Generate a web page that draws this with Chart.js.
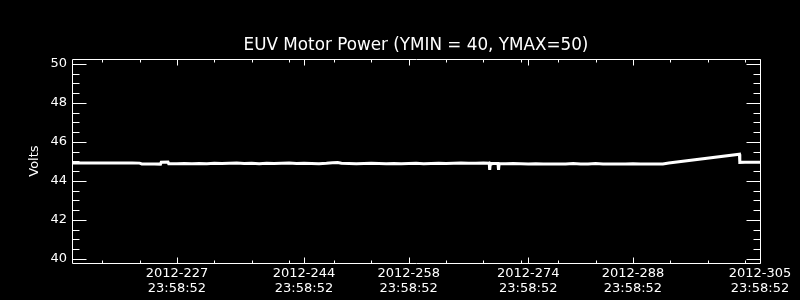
<!DOCTYPE html>
<html>
<head>
<meta charset="utf-8">
<script src="https://cdn.jsdelivr.net/npm/chart.js@4.4.1/dist/chart.umd.min.js"></script>
<style>
    html, body { margin: 0; padding: 0; background: #000; }
    #wrap { width: 800px; height: 300px; }
</style>
</head>
<body>
<div id="wrap"><canvas id="content" width="800" height="300"></canvas></div>
<script>
// chart data (x = day of year 2012)
var chartTitle = "EUV Motor Power (YMIN = 40, YMAX=50)";
var yTitle = "Volts";

var days = [212.96, 214, 215, 216, 217, 218, 219, 220, 221, 222, 222.3, 223, 224, 224.8, 224.9, 225.8, 225.9,
    227, 228, 229, 230, 231, 232, 233, 234, 235, 236, 237, 238, 239, 240, 241, 242, 243, 244, 245, 246, 247,
    247.8, 248.5, 249, 250, 251, 252, 253, 254, 255, 256, 257, 258, 259, 260, 261, 262, 263, 264, 265, 266,
    267, 268, 268.78, 268.84, 268.92, 269, 269.95, 270.02, 270.1, 271, 272, 273, 274, 275, 276, 277, 278,
    279, 280, 281, 282, 283, 284, 285, 286, 287, 288, 289, 290, 291, 292, 292.8, 302.25, 302.3, 303, 304, 305];

var volts = [44.92, 44.92, 44.91, 44.92, 44.91, 44.92, 44.92, 44.91, 44.92, 44.91, 44.87, 44.86, 44.87, 44.86, 44.96, 44.97, 44.88,
    44.88, 44.89, 44.88, 44.89, 44.88, 44.90, 44.89, 44.90, 44.91, 44.89, 44.90, 44.88, 44.90, 44.89, 44.90, 44.91, 44.89, 44.90, 44.89, 44.88, 44.90,
    44.93, 44.94, 44.90, 44.89, 44.88, 44.89, 44.90, 44.89, 44.88, 44.89, 44.88, 44.89, 44.90, 44.88, 44.89, 44.90, 44.89, 44.90, 44.91, 44.90,
    44.90, 44.91, 44.90, 44.56, 44.90, 44.89, 44.89, 44.56, 44.89, 44.88, 44.89, 44.88, 44.87, 44.88, 44.86, 44.87, 44.86,
    44.87, 44.89, 44.86, 44.87, 44.89, 44.86, 44.86, 44.87, 44.86, 44.88, 44.86, 44.87, 44.86, 44.87, 44.92, 45.37, 44.95, 44.96, 44.95, 44.96];

var xMajor = [227, 244, 258, 274, 288, 305];
var xLabels = [
    ["2012-227", "23:58:52"],
    ["2012-244", "23:58:52"],
    ["2012-258", "23:58:52"],
    ["2012-274", "23:58:52"],
    ["2012-288", "23:58:52"],
    ["2012-305", "23:58:52"]
];
var xMinor = [217, 222, 232, 237, 242, 248, 253, 263, 268, 273, 278, 283, 293, 298, 303];

var yMajor = [40, 42, 44, 46, 48, 50];
var yMinor = [40.5, 41, 41.5, 42.5, 43, 43.5, 44.5, 45, 45.5, 46.5, 47, 47.5, 48.5, 49, 49.5];

var fontFamily = "'DejaVu Sans', sans-serif";

// black page background
var blackBg = {
    id: 'blackBg',
    beforeDraw: function (chart) {
        var ctx = chart.ctx;
        ctx.save();
        ctx.fillStyle = '#000';
        ctx.fillRect(0, 0, chart.width, chart.height);
        ctx.restore();
    }
};

// box with inward ticks on all four sides
var boxTicks = {
    id: 'boxTicks',
    afterDatasetsDraw: function (chart) {
        var ctx = chart.ctx;
        var a = chart.chartArea;
        var xs = chart.scales.x;
        var ys = chart.scales.y;
        var l = Math.round(a.left) + 0.5, r = Math.round(a.right) + 0.5;
        var t = Math.round(a.top) + 0.5, b = Math.round(a.bottom) + 0.5;
        ctx.save();
        ctx.strokeStyle = '#fff';
        ctx.lineWidth = 1;
        ctx.beginPath();
        ctx.rect(l, t, r - l, b - t);

        function xTick(v, len) {
            var px = Math.round(xs.getPixelForValue(v)) + 0.5;
            ctx.moveTo(px, b); ctx.lineTo(px, b - len);
            ctx.moveTo(px, t); ctx.lineTo(px, t + len);
        }
        function yTick(v, len) {
            var py = Math.round(ys.getPixelForValue(v)) + 0.5;
            ctx.moveTo(l, py); ctx.lineTo(l + len, py);
            ctx.moveTo(r, py); ctx.lineTo(r - len, py);
        }
        xMajor.forEach(function (v) { xTick(v, 6); });
        xMinor.forEach(function (v) { xTick(v, 3); });
        yMajor.forEach(function (v) { yTick(v, 14); });
        yMinor.forEach(function (v) { yTick(v, 7); });
        ctx.stroke();
        ctx.restore();
    }
};

var points = days.map(function (d, i) {
    return { x: d, y: volts[i] };
});

var ctx = document.getElementById("content").getContext("2d");
new Chart(ctx, {
    type: 'line',
    data: {
        datasets: [{
            label: yTitle,
            data: points,
            borderColor: '#fff',
            borderWidth: 3,
            pointRadius: 0,
            tension: 0,
            fill: false
        }]
    },
    options: {
        responsive: false,
        animation: false,
        layout: { padding: { left: 0, right: 40, top: 0, bottom: 0 } },
        plugins: {
            legend: { display: false },
            tooltip: { enabled: false },
            title: {
                display: true,
                fullSize: false,
                text: chartTitle,
                color: '#fff',
                font: { family: fontFamily, size: 16.8, weight: 'normal', lineHeight: 1.2 },
                padding: { top: 36, bottom: 3 }
            }
        },
        scales: {
            x: {
                type: 'linear',
                min: 212.96,
                max: 305,
                grid: { display: false, drawTicks: false, tickLength: 0 },
                border: { display: false },
                afterBuildTicks: function (scale) {
                    scale.ticks = xMajor.map(function (v) { return { value: v }; });
                },
                afterFit: function (scale) { scale.height = 37; },
                ticks: {
                    color: '#fff',
                    autoSkip: false,
                    maxRotation: 0,
                    padding: 3,
                    font: { family: fontFamily, size: 13, lineHeight: 1.15 },
                    callback: function (value) {
                        var i = xMajor.indexOf(value);
                        return i >= 0 ? xLabels[i] : '';
                    }
                }
            },
            y: {
                type: 'linear',
                min: 39.78,
                max: 50.25,
                grid: { display: false, drawTicks: false, tickLength: 0 },
                border: { display: false },
                afterBuildTicks: function (scale) {
                    scale.ticks = yMajor.map(function (v) { return { value: v }; });
                },
                afterFit: function (scale) { scale.width = 72; },
                title: {
                    display: true,
                    text: yTitle,
                    color: '#fff',
                    font: { family: fontFamily, size: 13, lineHeight: 1.2 },
                    padding: { top: 27, bottom: 0 }
                },
                ticks: {
                    color: '#fff',
                    padding: 5,
                    font: { family: fontFamily, size: 13 },
                    callback: function (value) { return String(value); }
                }
            }
        }
    },
    plugins: [blackBg, boxTicks]
});
</script>
</body>
</html>
